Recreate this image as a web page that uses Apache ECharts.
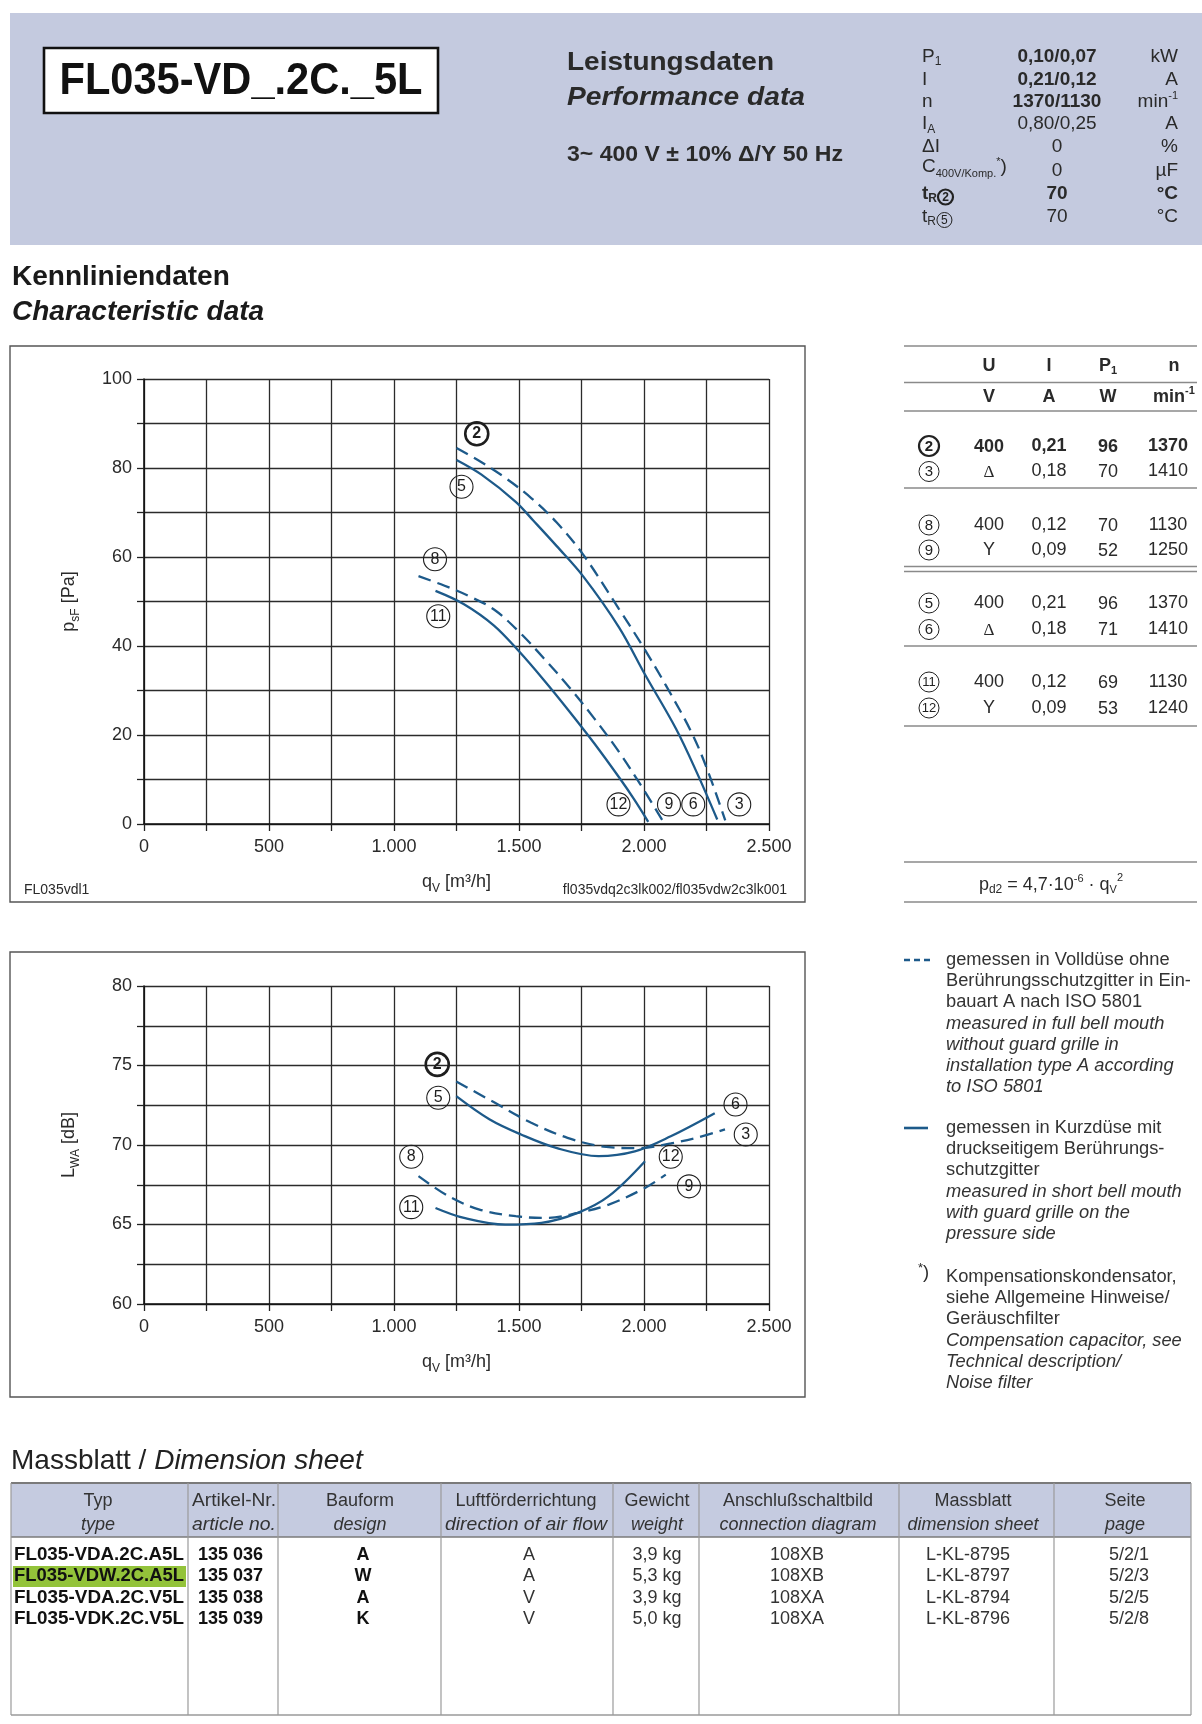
<!DOCTYPE html>
<html><head><meta charset="utf-8">
<script src="https://cdn.jsdelivr.net/npm/echarts@6/dist/echarts.min.js"></script>
<style>html,body{margin:0;padding:0;background:#fff}#c{width:1202px;height:1724px}</style>
</head><body><div id="c"></div>
<script>
// ---------------- DATA ----------------
const flowTickLabels = ['0', '500', '1.000', '1.500', '2.000', '2.500'];
const pressureTickLabels = ['0', '20', '40', '60', '80', '100'];
const soundTickLabels = ['60', '65', '70', '75', '80'];

// pressure curves [qV m3/h, psF Pa]
const pressureCurve2 = [[1250,84.5],[1350,81.3],[1450,77.6],[1550,73.2],[1650,67.8],[1756,60.6],[1900,48.3],[2000,39.5],[2087,31.2],[2190,20.6],[2252,12.4],[2325,0.8]];
const pressureCurve5 = [[1250,81.8],[1350,78.5],[1487,72.4],[1557,68.2],[1650,62.5],[1756,55.7],[1900,44.2],[2004,33.6],[2128,21.4],[2211,11.6],[2293,1.0]];
const pressureCurve8 = [[1098,55.7],[1200,53.6],[1300,51.2],[1400,48.2],[1500,43.2],[1600,37.2],[1700,30.8],[1800,23.8],[1900,16.2],[2000,7.6],[2076,0.6]];
const pressureCurve11 = [[1166,52.4],[1280,49.4],[1400,44.6],[1500,38.8],[1600,32.3],[1700,25.4],[1800,18.2],[1900,10.5],[1960,5.6],[2017,0.5]];
// sound curves [qV m3/h, LWA dB]
const soundCurve2 = [[1249,74.0],[1404,72.65],[1549,71.4],[1694,70.45],[1838,69.9],[1983,69.8],[2107,70.1],[2211,70.45],[2324,70.98]];
const soundCurve5 = [[1249,73.07],[1383,71.6],[1508,70.66],[1652,69.8],[1818,69.3],[1963,69.6],[2107,70.55],[2283,72.0]];
const soundCurve8 = [[1098,68.04],[1218,66.78],[1342,65.94],[1487,65.52],[1611,65.41],[1735,65.73],[1859,66.25],[2004,67.3],[2087,68.14]];
const soundCurve11 = [[1166,66.04],[1280,65.41],[1445,64.99],[1590,65.1],[1735,65.73],[1859,66.78],[2004,68.98]];
// curve markers [id, qV, value]
const pressureMarkers = [['2',1331,87.7],['5',1270,75.8],['8',1164,59.5],['11',1177,46.7],['12',1898,4.4],['9',2100,4.4],['6',2197,4.4],['3',2381,4.4]];
const soundMarkers = [['2',1173,75.07],['5',1177,72.97],['6',2366,72.55],['3',2407,70.66],['8',1069,69.26],['12',2107,69.26],['9',2180,67.4],['11',1069,66.09]];

// performance data
const perfValues = ['0,10/0,07','0,21/0,12','1370/1130','0,80/0,25','0','0','70','70'];
const perfUnits = ['kW','A','min','A','%','µF','°C','°C'];
// operating points table
const opIds = ['2','3','8','9','5','6','11','12'];
const opU = ['400','Δ','400','Y','400','Δ','400','Y'];
const opI = ['0,21','0,18','0,12','0,09','0,21','0,18','0,12','0,09'];
const opP = ['96','70','70','52','96','71','69','53'];
const opN = ['1370','1410','1130','1250','1370','1410','1130','1240'];
// dimension sheet
const typeCodes = ['FL035-VDA.2C.A5L','FL035-VDW.2C.A5L','FL035-VDA.2C.V5L','FL035-VDK.2C.V5L'];
const articleNos = ['135 036','135 037','135 038','135 039'];
const designs = ['A','W','A','K'];
const airflows = ['A','A','V','V'];
const weights = ['3,9 kg','5,3 kg','3,9 kg','5,0 kg'];
const diagrams = ['108XB','108XB','108XA','108XA'];
const sheets = ['L-KL-8795','L-KL-8797','L-KL-8794','L-KL-8796'];
const pages = ['5/2/1','5/2/3','5/2/5','5/2/8'];

// ---------------- HELPERS ----------------
const FF = '"Liberation Sans", Arial, Helvetica, sans-serif';
const SERIF = '"Liberation Serif", "DejaVu Serif", serif';
const BLUE = '#1d5a8a';
const TXT = '#2a2a2a';
const mctx = document.createElement('canvas').getContext('2d');
function fontStr(p){ return (p.i ? 'italic ' : '') + (p.w || 'normal') + ' ' + p.s + 'px ' + (p.f || FF); }
function measure(p){ mctx.font = fontStr(p); return mctx.measureText(p.t).width; }
const G = [];
function T(x, y, t, s, o){
  o = o || {};
  const el = {type:'text', x:x, y:y, silent:true, z:o.z || 20,
    style:{text:t, font:fontStr({s:s, w:o.w, i:o.i, f:o.f}), fill:o.c || TXT,
      textAlign:o.a || 'left', align:o.a || 'left', textVerticalAlign:'middle', verticalAlign:'middle'}};
  if (o.fit){ const mw = measure({t:t, s:s, w:o.w, i:o.i, f:o.f}); el.scaleX = o.fit / mw; el.originX = 0; el.originY = 0; }
  G.push(el); return el;
}
function SEQ(x, y, parts, align){
  const ws = parts.map(p => p.circ ? p.r * 2 + 2 : measure(p));
  const tot = ws.reduce((a, b) => a + b, 0);
  let cx = align === 'center' ? x - tot / 2 : align === 'right' ? x - tot : x;
  parts.forEach((p, k) => {
    if (p.circ) CIRC(cx + p.r + 1, y + (p.dy || 0), p.r, p.t, p.bold, p.fs);
    else T(cx, y + (p.dy || 0), p.t, p.s, {w:p.w, i:p.i, f:p.f, c:p.c});
    cx += ws[k];
  });
}
function CIRC(cx, cy, r, t, bold, fs){
  G.push({type:'circle', silent:true, z:20, shape:{cx:cx, cy:cy, r:r}, style:{fill:'rgba(0,0,0,0)', stroke:'#222', lineWidth: bold ? 2.2 : 1}});
  T(cx, cy + 0.5, t, fs || (t.length > 1 ? r * 1.25 : r * 1.45), {a:'center', w: bold ? 'bold' : 'normal', c:'#222'});
}
function L(x1, y1, x2, y2, c, w, dash){
  G.push({type:'line', silent:true, z:15, shape:{x1:x1, y1:y1, x2:x2, y2:y2}, style:{stroke:c, lineWidth:w, lineDash:dash || null}});
}
function R(x, y, w, h, fill, stroke, lw){
  G.push({type:'rect', silent:true, z:5, shape:{x:x, y:y, width:w, height:h}, style:{fill:fill || 'rgba(0,0,0,0)', stroke:stroke || null, lineWidth:lw || 0}});
}

// ---------------- HEADER ----------------
R(10, 13, 1192, 232, '#c4cadf');
R(44, 48, 394, 65, '#ffffff', '#111', 2.6);
T(241, 81.5, 'FL035-VD_.2C._5L', 44, {a:'center', w:'bold', c:'#111', fit:363});
T(567, 63, 'Leistungsdaten', 26, {w:'bold', fit:207});
T(567, 98, 'Performance data', 26, {w:'bold', i:true, fit:238});
T(567, 155, '3~ 400 V ± 10% Δ/Y 50 Hz', 22, {w:'bold', fit:276});

const pRows = [57, 80, 102, 124, 147, 171, 194, 217];
const PX = 922, VX = 1057, UX = 1178, PS = 19;
SEQ(PX, pRows[0], [{t:'P', s:PS}, {t:'1', s:12, dy:5}], 'left');
T(PX, pRows[1], 'I', PS);
T(PX, pRows[2], 'n', PS);
SEQ(PX, pRows[3], [{t:'I', s:PS}, {t:'A', s:12, dy:6}], 'left');
T(PX, pRows[4], 'ΔI', PS);
SEQ(PX, pRows[5] - 4, [{t:'C', s:PS}, {t:'400V/Komp.', s:11, dy:7}, {t:'*', s:11, dy:-5}, {t:')', s:PS}], 'left');
SEQ(PX, pRows[6], [{t:'t', s:PS, w:'bold'}, {t:'R', s:12, w:'bold', dy:5}, {circ:true, r:7.5, t:'2', bold:true, fs:12, dy:3}], 'left');
SEQ(PX, pRows[7], [{t:'t', s:PS}, {t:'R', s:12, dy:5}, {circ:true, r:7.5, t:'5', fs:12, dy:3}], 'left');
perfValues.forEach((v, k) => {
  const b = (k < 3 || k === 6) ? 'bold' : 'normal';
  T(VX, pRows[k], v, PS, {a:'center', w:b});
});
perfUnits.forEach((u, k) => {
  if (k === 2) SEQ(UX, pRows[k], [{t:'min', s:PS}, {t:'-1', s:11, dy:-6}], 'right');
  else T(UX, pRows[k], u, PS, {a:'right', w: k === 6 ? 'bold' : 'normal'});
});

// ---------------- SECTION TITLES ----------------
T(12, 277, 'Kennliniendaten', 28, {w:'bold', c:'#1a1a1a'});
T(12, 312, 'Characteristic data', 28, {w:'bold', i:true, c:'#1a1a1a'});

// chart frames
R(10, 346, 795, 556, null, '#555', 1.4);
R(10, 952, 795, 445, null, '#555', 1.4);
T(24, 890, 'FL035vdl1', 14);
T(787, 890, 'fl035vdq2c3lk002/fl035vdw2c3lk001', 14, {a:'right'});

// ---------------- OPERATING TABLE ----------------
const TL = 904, TR = 1197, LC = '#8a8a8a';
[346, 382.5, 411, 488, 566.5, 571.5, 646, 726, 862, 902].forEach(y => L(TL, y, TR, y, LC, 1.5));
const cU = 989, cI = 1049, cP = 1108, cN = 1168, TS = 18;
T(cU, 366, 'U', TS, {a:'center', w:'bold'});
T(cI, 366, 'I', TS, {a:'center', w:'bold'});
SEQ(cP, 366, [{t:'P', s:TS, w:'bold'}, {t:'1', s:11, w:'bold', dy:5}], 'center');
T(1174, 366, 'n', TS, {a:'center', w:'bold'});
T(cU, 397, 'V', TS, {a:'center', w:'bold'});
T(cI, 397, 'A', TS, {a:'center', w:'bold'});
T(cP, 397, 'W', TS, {a:'center', w:'bold'});
SEQ(1174, 397, [{t:'min', s:TS, w:'bold'}, {t:'-1', s:11, w:'bold', dy:-6}], 'center');
const opRowsY = [446, 471.5, 525, 550, 603, 629.5, 682, 708];
opIds.forEach((id, k) => {
  const y = opRowsY[k];
  const b = k === 0;
  CIRC(929, y, 10, id, b, id.length > 1 ? 13 : 15);
  const w = b ? 'bold' : 'normal';
  if (opU[k] === 'Δ') T(cU, y + 1, opU[k], 17, {a:'center', f:SERIF});
  else T(cU, y + (b ? 1 : 0), opU[k], TS, {a:'center', w:w});
  T(cI, y, opI[k], TS, {a:'center', w:w});
  T(cP, y + 1, opP[k], TS, {a:'center', w:w});
  T(cN, y, opN[k], TS, {a:'center', w:w});
});
SEQ(1051, 885, [{t:'p', s:18}, {t:'d2', s:12, dy:5}, {t:' = 4,7·10', s:18}, {t:'-6', s:11, dy:-6}, {t:' · q', s:18}, {t:'V', s:11, dy:5}, {t:'2', s:11, dy:-7}], 'center');

// ---------------- LEGEND ----------------
L(904, 960, 930, 960, BLUE, 2.6, [6, 4]);
L(904, 1128, 928, 1128, BLUE, 2.6);
const LX = 946, LS = 18.3;
const leg1 = ['gemessen in Volldüse ohne', 'Berührungsschutzgitter in Ein-', 'bauart A nach ISO 5801'];
const leg1e = ['measured in full bell mouth', 'without guard grille in', 'installation type A according', 'to ISO 5801'];
const leg2 = ['gemessen in Kurzdüse mit', 'druckseitigem Berührungs-', 'schutzgitter'];
const leg2e = ['measured in short bell mouth', 'with guard grille on the', 'pressure side'];
const leg3 = ['Kompensationskondensator,', 'siehe Allgemeine Hinweise/', 'Geräuschfilter'];
const leg3e = ['Compensation capacitor, see', 'Technical description/', 'Noise filter'];
function block(y0, de, en){
  const lh = 21.2;
  de.forEach((s, k) => T(LX, y0 + k * lh, s, LS, {c:'#333'}));
  en.forEach((s, k) => T(LX, y0 + (de.length + k) * lh, s, LS, {i:true, c:'#333'}));
}
block(960, leg1, leg1e);
block(1128, leg2, leg2e);
block(1277, leg3, leg3e);
SEQ(918, 1273, [{t:'*', s:13, dy:-5}, {t:')', s:LS}], 'left');

// ---------------- DIMENSION SHEET ----------------
SEQ(11, 1461, [{t:'Massblatt / ', s:28, c:'#222'}, {t:'Dimension sheet', s:28, i:true, c:'#222'}], 'left');
R(11, 1483, 1180, 54, '#c5cbe0');
L(11, 1483, 1191, 1483, '#7a7a7a', 2);
L(11, 1537, 1191, 1537, '#7a7a7a', 1.5);
L(11, 1715, 1191, 1715, '#9a9a9a', 1.5);
[11, 188, 278, 441, 613, 699, 899, 1054, 1191].forEach(x => L(x, 1483, x, 1715, '#9a9a9a', 1.2));
const HS = 18;
const heads = [[98,'Typ','type'],[234,'Artikel-Nr.','article no.'],[360,'Bauform','design'],[526,'Luftförderrichtung','direction of air flow'],[657,'Gewicht','weight'],[798,'Anschlußschaltbild','connection diagram'],[973,'Massblatt','dimension sheet'],[1125,'Seite','page']];
heads.forEach(h => {
  T(h[0], 1501, h[1], HS, {a:'center', c:'#333', fit: h[1] === 'Artikel-Nr.' ? 84 : undefined});
  T(h[0], 1525, h[2], HS, {a:'center', i:true, c:'#333', fit: h[2] === 'direction of air flow' ? 162 : (h[2] === 'article no.' ? 84 : undefined)});
});
R(13, 1566, 173, 21, '#93c33a');
const dRows = [1555, 1576, 1598, 1619];
dRows.forEach((y, k) => {
  T(14, y, typeCodes[k], 18, {w:'bold', c:'#111', fit:170});
  T(198, y, articleNos[k], 18, {w:'bold', c:'#111'});
  T(363, y, designs[k], 18, {a:'center', w:'bold', c:'#111'});
  T(529, y, airflows[k], 18, {a:'center', c:'#333'});
  T(657, y, weights[k], 18, {a:'center', c:'#333'});
  T(797, y, diagrams[k], 18, {a:'center', c:'#333'});
  T(968, y, sheets[k], 18, {a:'center', c:'#333'});
  T(1129, y, pages[k], 18, {a:'center', c:'#333'});
});

// ---------------- CHARTS ----------------
const GRIDC = '#2b2b2b';
function xAx(gi){
  return {type:'value', gridIndex:gi, min:0, max:2500, interval:250,
    axisLine:{show:true, lineStyle:{color:'#111', width:1.6}},
    axisTick:{show:true, length:7, lineStyle:{color:'#222', width:1.3}},
    splitLine:{show:true, lineStyle:{color:GRIDC, width:1.3}},
    axisLabel:{formatter:v => (v % 500 === 0 ? flowTickLabels[v / 500] : ''), fontSize:18, color:TXT, fontFamily:FF, margin:14, showMinLabel:true, showMaxLabel:true},
    name:'{a|q}{b|V}{a| [m³/h]}', nameLocation:'middle', nameGap:45,
    nameTextStyle:{rich:{a:{fontSize:18, color:TXT, fontFamily:FF, lineHeight:26}, b:{fontSize:12, color:TXT, fontFamily:FF, verticalAlign:'bottom', lineHeight:12}}}};
}
function yAx(gi, min, max, step, labels, labStep, nm, sub){
  return {type:'value', gridIndex:gi, min:min, max:max, interval:step,
    axisLine:{show:true, lineStyle:{color:'#111', width:1.6}},
    axisTick:{show:true, length:7, lineStyle:{color:'#222', width:1.3}},
    splitLine:{show:true, lineStyle:{color:GRIDC, width:1.3}},
    axisLabel:{formatter:v => { const r = (v - min) / labStep; return Math.abs(r - Math.round(r)) < 1e-6 ? labels[Math.round(r)] : ''; }, fontSize:18, color:TXT, fontFamily:FF, margin:12, showMinLabel:true, showMaxLabel:true},
    name:'{a|' + nm + '}{b|' + sub + '}{a| ' + (gi === 0 ? '[Pa]' : '[dB]') + '}', nameLocation:'middle', nameGap:62, nameRotate:90,
    nameTextStyle:{rich:{a:{fontSize:18, color:TXT, fontFamily:FF, lineHeight:26}, b:{fontSize:12, color:TXT, fontFamily:FF, verticalAlign:'bottom', lineHeight:12}}}};
}
function curve(data, xi, dashed){
  return {type:'line', xAxisIndex:xi, yAxisIndex:xi, data:data, smooth:0.35, showSymbol:false, symbol:'none', silent:true, clip:false, z:5,
    lineStyle:{color:BLUE, width:2.3, type: dashed ? [13, 7] : 'solid'}};
}
function markers(list, xi, bold){
  const items = list.filter(m => (m[0] === '2') === bold).map(m => ({name:m[0], value:[m[1], m[2]]}));
  return {type:'scatter', xAxisIndex:xi, yAxisIndex:xi, data:items, symbol:'circle', symbolSize:23, silent:true, clip:false, z:10,
    itemStyle:{color:'rgba(255,255,255,0)', borderColor:'#1e1e1e', borderWidth: bold ? 2.6 : 1.1, opacity:1},
    label:{show:true, position:'inside', formatter:p => p.name, fontFamily:FF, color:'#1e1e1e',
      fontSize: 16, fontWeight: bold ? 'bold' : 'normal'},
    labelLayout:{hideOverlap:false}};
}
const seriesSmall = (list, xi) => [markers(list, xi, false), markers(list, xi, true)];

const chart = echarts.init(document.getElementById('c'), null, {renderer:'canvas', width:1202, height:1724});
chart.setOption({
  animation:false,
  backgroundColor:'#ffffff',
  grid:[{left:144, top:379, width:625, height:445}, {left:144, top:986, width:625, height:318}],
  xAxis:[xAx(0), xAx(1)],
  yAxis:[yAx(0, 0, 100, 10, pressureTickLabels, 20, 'p', 'sF'), yAx(1, 60, 80, 2.5, soundTickLabels, 5, 'L', 'WA')],
  series:[
    curve(pressureCurve2, 0, true), curve(pressureCurve5, 0, false), curve(pressureCurve8, 0, true), curve(pressureCurve11, 0, false),
    curve(soundCurve2, 1, true), curve(soundCurve5, 1, false), curve(soundCurve8, 1, true), curve(soundCurve11, 1, false)
  ].concat(seriesSmall(pressureMarkers, 0), seriesSmall(soundMarkers, 1)),
  graphic:{elements:G}
});
</script></body></html>
